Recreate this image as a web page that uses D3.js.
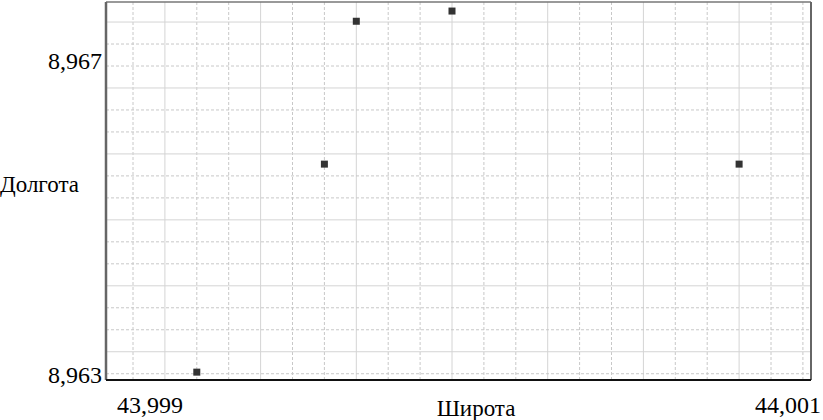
<!DOCTYPE html>
<html>
<head>
<meta charset="utf-8">
<script src="https://cdn.jsdelivr.net/npm/d3@7"></script>
<style>
	body { margin: 0; background: #fff; }
</style>
</head>
<body>
<svg id="chart"></svg>
<script>
// data: широта / долгота
let latitude = [43.9992, 43.9996, 43.9997, 44.0000, 44.0009];
let longitude = [8.96310, 8.96575, 8.96757, 8.96770, 8.96575];
let xTicks = [43.999, 44.001];
let yTicks = [8.967, 8.963];

let width = 823;
let height = 420;
let plot = { left: 106, right: 811, top: 2, bottom: 380 };
let serif = "'Liberation Serif', 'Times New Roman', 'DejaVu Serif', serif";

let svg = d3.select('#chart')
	.attr('width', width)
	.attr('height', height);

// scales: 43,999 sits on the 1st grid line, 0.0001 per grid cell
let x = d3.scaleLinear().domain([43.999, 44.001]).range([133, 771]);
let y = d3.scaleLinear().domain([8.963, 8.967]).range([380, 66]);

let fmt = v => d3.format('.3f')(v).replace('.', ',');

// grid
let grid = svg.append('g').attr('class', 'grid');
let xStep = 0.0001;
let xGrid = d3.range(-2, 30).map(i => 43.999 + i * xStep)
	.filter(v => x(v) > plot.left + 2 && x(v) < plot.right - 2);
let yStep = 0.00028;
let yGrid = d3.range(-5, 20).map(i => 8.967 - i * yStep)
	.filter(v => y(v) > plot.top + 4 && y(v) < plot.bottom - 4);

grid.selectAll('line.vx')
	.data(xGrid)
	.enter()
	.append('line')
	.attr('x1', d => x(d)).attr('x2', d => x(d))
	.attr('y1', plot.top).attr('y2', plot.bottom)
	.attr('stroke', (d, i) => i % 3 == 1 ? '#d4d4d4' : '#c8c8c8')
	.attr('stroke-dasharray', (d, i) => i % 3 == 1 ? null : '3,2')
	.attr('stroke-width', 1);

grid.selectAll('line.hy')
	.data(yGrid)
	.enter()
	.append('line')
	.attr('y1', d => y(d)).attr('y2', d => y(d))
	.attr('x1', plot.left).attr('x2', plot.right)
	.attr('stroke', (d, i) => i % 3 == 0 ? '#d4d4d4' : '#c8c8c8')
	.attr('stroke-dasharray', (d, i) => i % 3 == 0 ? null : '3,2')
	.attr('stroke-width', 1);

// frame
svg.append('line').attr('x1', plot.left).attr('x2', plot.right).attr('y1', plot.top).attr('y2', plot.top)
	.attr('stroke', '#777').attr('stroke-width', 1.5);
svg.append('line').attr('x1', plot.right).attr('x2', plot.right).attr('y1', plot.top).attr('y2', plot.bottom)
	.attr('stroke', '#666').attr('stroke-width', 2);
svg.append('line').attr('x1', plot.left).attr('x2', plot.left).attr('y1', plot.top).attr('y2', plot.bottom)
	.attr('stroke', '#666').attr('stroke-width', 2.5);
svg.append('line').attr('x1', plot.left).attr('x2', plot.right).attr('y1', plot.bottom).attr('y2', plot.bottom)
	.attr('stroke', '#111').attr('stroke-width', 2);

// points
svg.append('g')
	.selectAll('rect')
	.data(latitude)
	.enter()
	.append('rect')
	.attr('x', d => x(d) - 3.5)
	.attr('y', (d, i) => y(longitude[i]) - 3.5)
	.attr('width', 7)
	.attr('height', 7)
	.attr('fill', '#333');

// tick labels
svg.append('g')
	.selectAll('text')
	.data(xTicks)
	.enter()
	.append('text')
	.attr('x', d => x(d) + 17)
	.attr('y', 413)
	.attr('text-anchor', 'middle')
	.attr('font-family', serif)
	.attr('font-size', 24)
	.text(fmt);

svg.append('g')
	.selectAll('text')
	.data(yTicks)
	.enter()
	.append('text')
	.attr('x', 102)
	.attr('y', d => y(d) + 3)
	.attr('text-anchor', 'end')
	.attr('font-family', serif)
	.attr('font-size', 24)
	.text(fmt);

// axis titles
svg.append('text')
	.attr('x', 476)
	.attr('y', 416)
	.attr('text-anchor', 'middle')
	.attr('font-family', serif)
	.attr('font-size', 23)
	.text('Широта');

svg.append('text')
	.attr('x', 0)
	.attr('y', 192)
	.attr('font-family', serif)
	.attr('font-size', 23)
	.text('Долгота');
</script>
</body>
</html>
